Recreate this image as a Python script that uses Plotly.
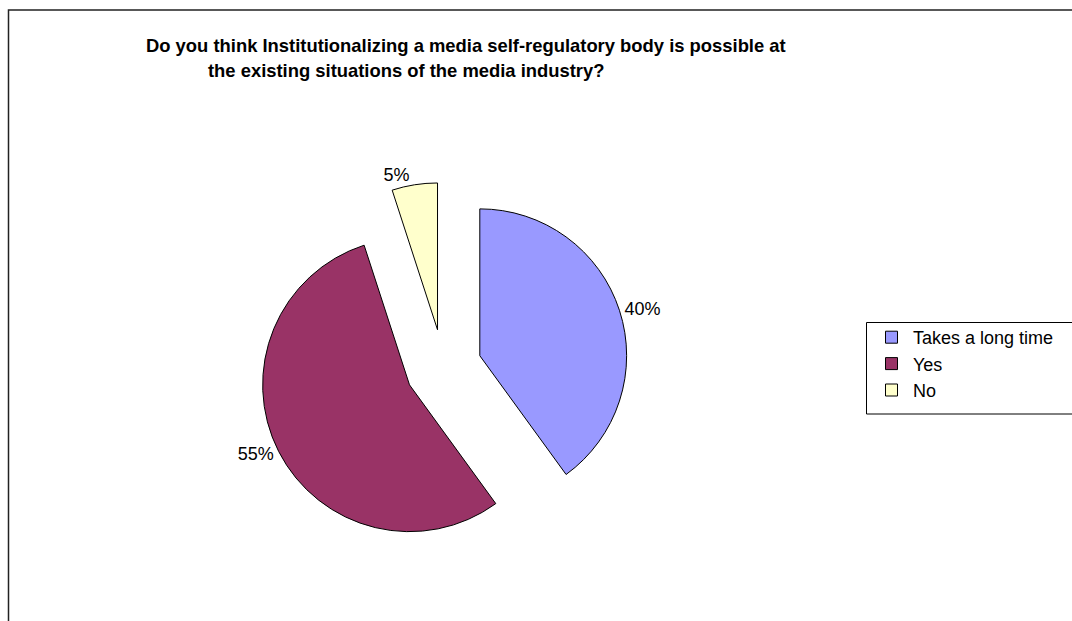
import plotly.graph_objects as go

categories = ["Takes a long time", "Yes", "No"]
values = [40, 55, 5]
colors = ["#9999FF", "#993366", "#FFFFCC"]
title_line1 = "Do you think Institutionalizing a media self-regulatory body is possible at"
title_line2 = "the existing situations of the media industry?"

W, H = 1072, 621
FONT = "Arial, Liberation Sans, sans-serif"

fig = go.Figure()
fig.add_trace(go.Pie(
    labels=categories,
    values=values,
    sort=False,
    direction="clockwise",
    rotation=0,
    pull=[0.26, 0.26, 0.26],
    marker=dict(colors=colors, line=dict(color="#000000", width=1)),
    textinfo="percent",
    texttemplate="%{percent:.0%}",
    textposition="outside",
    outsidetextfont=dict(family=FONT, size=18, color="#000000"),
    domain=dict(x=[258.5 / W, 628.5 / W], y=[1 - 552.5 / H, 1 - 182.5 / H]),
    hoverinfo="label+percent",
    showlegend=True,
))

fig.update_layout(
    width=W, height=H,
    margin=dict(l=0, r=0, t=0, b=0),
    paper_bgcolor="white",
    plot_bgcolor="white",
    font=dict(family=FONT, size=18, color="#000000"),
    legend=dict(
        x=870 / W, xanchor="left",
        y=1 - 319 / H, yanchor="top",
        borderwidth=0,
        font=dict(family=FONT, size=18, color="#000000"),
        bgcolor="rgba(0,0,0,0)",
        itemwidth=33,
        tracegroupgap=0,
    ),
    annotations=[
        dict(text="<b>" + title_line1 + "</b>", x=466 / W, y=1 - 45.5 / H,
             xref="paper", yref="paper", xanchor="center", yanchor="middle",
             showarrow=False, font=dict(family=FONT, size=18.4, color="#000000")),
        dict(text="<b>" + title_line2 + "</b>", x=405.5 / W, y=1 - 71 / H,
             xref="paper", yref="paper", xanchor="center", yanchor="middle",
             showarrow=False, font=dict(family=FONT, size=18.4, color="#000000")),
    ],
    shapes=[
        dict(type="rect", xref="paper", yref="paper",
             x0=8.5 / W, x1=1.02, y0=-0.02, y1=1 - 10 / H,
             line=dict(color="#222222", width=1.5), fillcolor="rgba(0,0,0,0)",
             layer="below"),
        dict(type="rect", xref="paper", yref="paper",
             x0=866.5 / W, x1=1.02, y0=1 - 414 / H, y1=1 - 322.5 / H,
             line=dict(color="#000000", width=1), fillcolor="rgba(0,0,0,0)",
             layer="below"),
    ],
)

fig.write_html("out.html")
